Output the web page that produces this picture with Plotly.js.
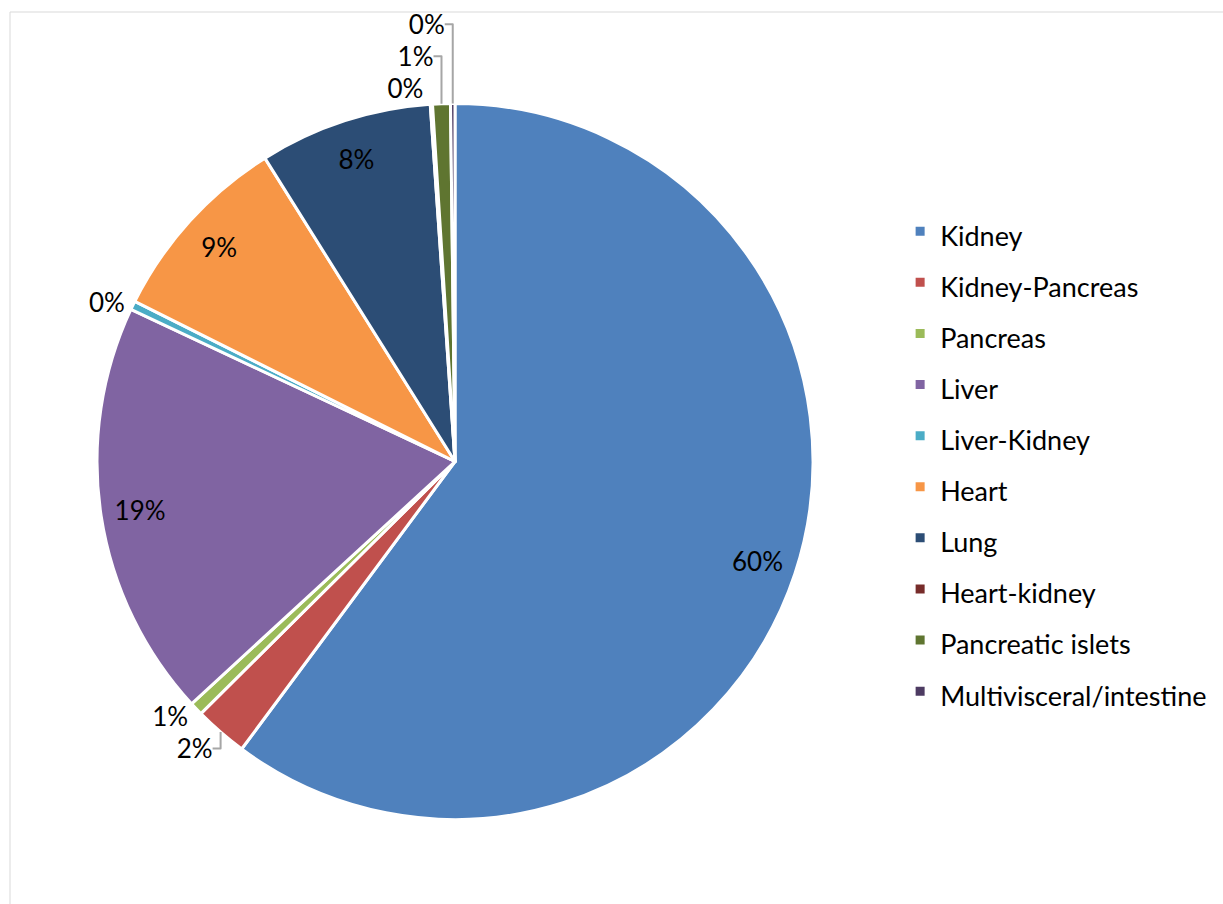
<!DOCTYPE html>
<html>
<head>
<meta charset="utf-8">
<script src="https://cdn.plot.ly/plotly-3.0.1.min.js"></script>
<style>html,body{margin:0;padding:0;background:#fff;}#chart{width:1223px;height:904px;}</style>
</head>
<body>
<div id="chart"></div>
<script>
// Data (percent of total)
const organs = ["Kidney", "Kidney-Pancreas", "Pancreas", "Liver", "Liver-Kidney", "Heart", "Lung", "Heart-kidney", "Pancreatic islets", "Multivisceral/intestine"];
const shares = [60.1, 2.4, 0.6, 18.8, 0.4, 8.7, 7.8, 0.1, 0.8, 0.2];
const sliceColors = ["#4F81BD", "#C0504D", "#9BBB59", "#8064A2", "#4BACC6", "#F79646", "#2C4D75", "#772C2A", "#5F7530", "#4D3B62"];

const FONT = "Lato, 'Open Sans', sans-serif";
const LABEL_SIZE = 26;
const LEGEND_SIZE = 27;
const legendLabels = organs.map(o => '<span style="font-size:' + LEGEND_SIZE + 'px">' + o + '</span>');
const isBig = shares.map(v => v >= 5);
const domain = { x: [97 / 1223, 813 / 1223], y: [84 / 904, 801 / 904] };

// main pie: slices, legend and outside labels (grey leader lines, black text)
const pie = {
  type: "pie",
  labels: legendLabels,
  values: shares,
  sort: false,
  direction: "clockwise",
  rotation: 0,
  marker: { colors: sliceColors, line: { color: "#ffffff", width: 3 } },
  textinfo: "percent",
  texttemplate: '<span style="color:#000000">%{percent:.0%}</span>',
  textposition: isBig.map(b => b ? "none" : "outside"),
  outsidetextfont: { family: FONT, size: LABEL_SIZE, color: "#a6a6a6" },
  hoverinfo: "none",
  domain: domain
};

// transparent ring on top, used only to place the inside labels near the rim
const ring = {
  type: "pie",
  labels: organs,
  values: shares,
  sort: false,
  direction: "clockwise",
  rotation: 0,
  hole: 0.78,
  showlegend: false,
  marker: { colors: shares.map(() => "rgba(0,0,0,0)"), line: { width: 0 } },
  textinfo: "percent",
  texttemplate: "%{percent:.0%}",
  textposition: isBig.map(b => b ? "inside" : "none"),
  insidetextorientation: "horizontal",
  insidetextfont: { family: FONT, size: LABEL_SIZE, color: "#000000" },
  hoverinfo: "none",
  domain: domain
};

const layout = {
  width: 1223,
  height: 904,
  margin: { l: 0, r: 0, t: 0, b: 0 },
  paper_bgcolor: "#ffffff",
  showlegend: true,
  legend: {
    x: 0.736, y: 0.778, xanchor: "left", yanchor: "top",
    font: { family: FONT, size: 37, color: "#000000" },
    itemclick: false
  },
  shapes: [{
    type: "rect", xref: "paper", yref: "paper",
    x0: 10 / 1223, x1: 1.01, y0: -0.01, y1: (904 - 12) / 904,
    line: { color: "#d9d9d9", width: 1 }
  }]
};

Plotly.newPlot("chart", [pie, ring], layout, { staticPlot: true });
</script>
</body>
</html>
